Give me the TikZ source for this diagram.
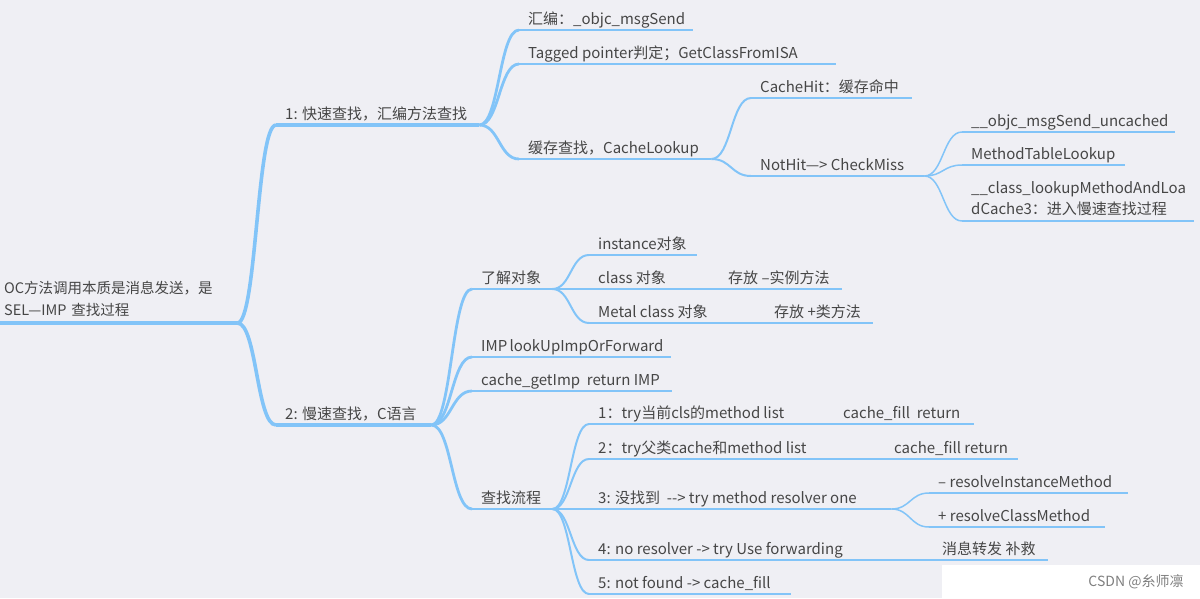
\documentclass[tikz,border=0pt]{standalone}
\usepackage{fontspec}
\setmainfont{Noto Sans CJK SC}
\usetikzlibrary{calc}
\definecolor{paper}{HTML}{EFEFF4}
\definecolor{sky}{HTML}{82C4F8}
\definecolor{ink}{HTML}{464646}

\begin{document}
\begin{tikzpicture}[x=1pt, y=-1pt,
  topic/.style={anchor=south west, inner xsep=9pt, text=ink, font=\fontsize{15}{18}\selectfont,
    append after command={(\tikzlastnode.south west) edge[draw=sky, line width=#1] (\tikzlastnode.south east)}},
  one/.style={inner ysep=0pt, text height=11pt, text depth=5.6pt,
    execute at begin node={\hbox to #1pt\bgroup}, execute at end node={\hfil\egroup}},
  l1/.style={topic=3.6pt}, l2/.style={topic=2.8pt},
  l3/.style={topic=2pt}, l4/.style={topic=1.5pt}]
  \useasboundingbox (0,0) rectangle (1200,598);
  \fill[paper] (0,0) rectangle (1200,598);

  \node[l1, inner xsep=4pt, inner ysep=6pt, text width=229pt, align=left, font=\fontsize{14.5}{22.5}\selectfont] (root) at (0,323) {OC方法调用本质是消息发送，是\\SEL—IMP 查找过程};
  \node[l1, one=185] (fast) at (276,125) {1: 快速查找，汇编方法查找};
  \node[l1, one=137] (slow) at (276,425) {2: 慢速查找，C语言};

  \node[l2, one=156] (asm) at (519,30) {汇编：\_objc\_msgSend};
  \node[l2, one=299] (tagged) at (519,64) {Tagged pointer判定；GetClassFromISA};
  \node[l2, one=174] (cachelk) at (519,159) {缓存查找，CacheLookup};
  \node[l3, one=143] (hit) at (751,98) {CacheHit：缓存命中};
  \node[l3, one=155] (miss) at (751,176) {NotHit—> CheckMiss};
  \node[l4, one=195] (uncached) at (962,132) {\_\_objc\_msgSend\_uncached};
  \node[l4, one=145] (mtl) at (962,165) {MethodTableLookup};
  \node[l4, inner ysep=5pt, text width=214pt, align=left, font=\fontsize{15}{21}\selectfont] (loadcache) at (962,221) {\_\_class\_lookupMethodAndLoa\\dCache3：进入慢速查找过程};

  \node[l2, one=62] (know) at (472,289) {了解对象};
  \node[l3, one=90] (inst) at (589,255) {instance对象};
  \node[l3, one=72] (cls) at (589,289) {class 对象};
  \node[l4, one=105] (clsstore) at (719,289) {存放 –实例方法};
  \node[l3, one=116] (meta) at (589,323) {Metal class 对象};
  \node[l4, one=90] (metastore) at (765,323) {存放 +类方法};
  \node[l2, one=181] (lookupimp) at (472,357) {IMP lookUpImpOrForward};
  \node[l2, one=182] (getimp) at (472,391) {cache\_getImp\ \ return IMP};
  \node[l2, one=62] (flow) at (472,509) {查找流程};
  \node[l3, one=186] (f1) at (589,424) {1：try当前cls的method list};
  \node[l4, one=122] (f1r) at (834,424) {cache\_fill\ \ return};
  \node[l3, one=236] (f2) at (589,459) {2：try父类cache和method list};
  \node[l4, one=115] (f2r) at (885,459) {cache\_fill return};
  \node[l3, one=284] (f3) at (589,509) {3: 没找到\ \ -{}-{}> try method resolver one};
  \node[l4, one=181] (f3a) at (929,493) {– resolveInstanceMethod};
  \node[l4, one=158] (f3b) at (929,527) {+ resolveClassMethod};
  \node[l3, one=284] (f4) at (589,560) {4: no resolver -> try Use forwarding};
  \node[l4, one=97] (f4r) at (933,560) {消息转发 补救};
  \node[l3, one=184] (f5) at (589,594) {5: not found -> cache\_fill};

  \foreach \src/\dst/\wd in {root/fast/3.6, root/slow/3.6,
      fast/asm/2.8, fast/tagged/2.8, fast/cachelk/2.8,
      cachelk/hit/2, cachelk/miss/2,
      miss/uncached/1.5, miss/mtl/1.5, miss/loadcache/1.5,
      slow/know/2.8, slow/lookupimp/2.8, slow/getimp/2.8, slow/flow/2.8,
      know/inst/2, know/cls/2, know/meta/2, cls/clsstore/1.5, meta/metastore/1.5,
      flow/f1/2, flow/f2/2, flow/f3/2, flow/f4/2, flow/f5/2,
      f1/f1r/1.5, f2/f2r/1.5, f3/f3a/1.5, f3/f3b/1.5, f4/f4r/1.5}
    \draw[sky, line width=\wd pt] let \p1=(\src.south east), \p2=(\dst.south west), \n1={(\x2-\x1)/2} in
      (\p1) .. controls +(\n1,0) and +(-\n1,0) .. (\p2);

  \fill[white] (942,565) rectangle (1200,598);
  \node[text=gray, font=\fontsize{14}{14}\selectfont] (mark) at (1136,582) {CSDN @糸师凛};
\end{tikzpicture}
\end{document}
